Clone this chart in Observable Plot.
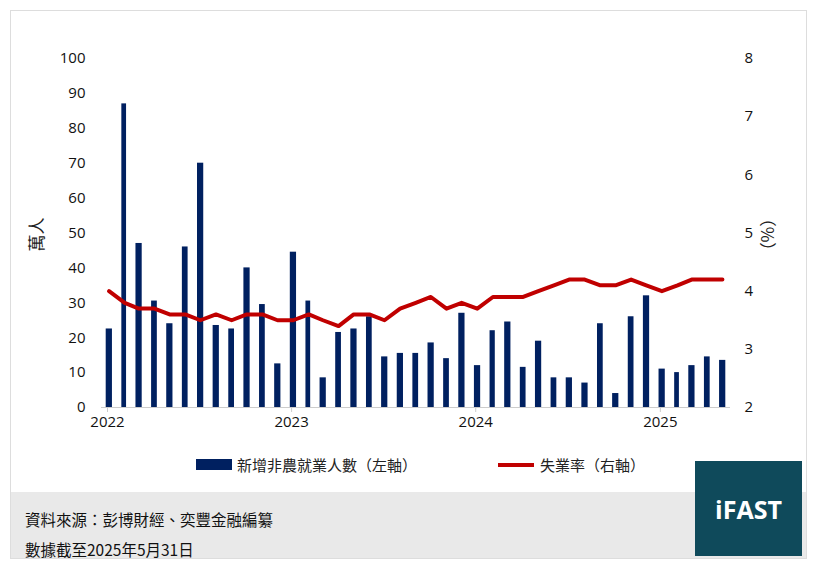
<!DOCTYPE html>
<html><head><meta charset="utf-8">
<script src="https://cdn.jsdelivr.net/npm/d3@7"></script>
<script src="https://cdn.jsdelivr.net/npm/@observablehq/plot@0.6"></script>
<style>
body{margin:0;background:#fff;font-family:"Open Sans","Noto Sans CJK TC",sans-serif;}
#wrap{position:relative;width:817px;height:571px;}
#frame{position:absolute;left:10px;top:10px;width:797px;height:549px;border:1px solid #ddd;box-sizing:border-box;}
#chart{position:absolute;left:0;top:0;}
.lbl{position:absolute;font-size:17px;color:#222;font-family:"Noto Sans CJK TC",sans-serif;white-space:nowrap;}
#legend{position:absolute;top:454px;left:0;width:817px;font-size:15px;color:#222;font-family:"Noto Sans CJK TC",sans-serif;}
#foot{position:absolute;left:11px;top:492px;width:795px;height:66px;background:#e9e9e9;}
#foot div{position:absolute;left:14px;font-size:15.5px;color:#111;font-family:"Noto Sans CJK TC",sans-serif;}
#logo{position:absolute;left:695px;top:461px;width:107px;height:95px;background:#0f4a5b;color:#fff;font:bold 25px "Open Sans",sans-serif;display:flex;align-items:center;justify-content:center;}
</style></head><body>
<div id="wrap">
<div id="frame"></div>
<div id="chart"></div>
<div class="lbl" style="left:18px;top:222px;transform:rotate(-90deg);">萬人</div>
<div class="lbl" style="left:744px;top:222px;transform:rotate(90deg);">（%）</div>
<div id="legend">
 <span style="position:absolute;left:196px;top:5px;width:36px;height:11px;background:#002060"></span>
 <span style="position:absolute;left:237px;top:0">新增非農就業人數（左軸）</span>
 <span style="position:absolute;left:498px;top:9px;width:36px;height:4px;background:#c00000"></span>
 <span style="position:absolute;left:540px;top:0">失業率（右軸）</span>
</div>
<div id="foot"><div style="top:16px">資料來源：彭博財經、奕豐金融編纂</div><div style="top:46px">數據截至2025年5月31日</div></div>
<div id="logo">iFAST</div>
</div>
<script>
const months = d3.timeMonths(new Date(2022,0,1), new Date(2025,5,1));
const payrolls = [22.5,87,47,30.5,24,46,70,23.5,22.5,40,29.5,12.5,
  44.5,30.5,8.5,21.5,22.5,26,14.5,15.5,15.5,18.5,14,27,
  12,22,24.5,11.5,19,8.5,8.5,7,24,4,26,32,
  11,10,12,14.5,13.5];
const unemployment = [4.0,3.8,3.7,3.7,3.6,3.6,3.5,3.6,3.5,3.6,3.6,3.5,
  3.5,3.6,3.5,3.4,3.6,3.6,3.5,3.7,3.8,3.9,3.7,3.8,
  3.7,3.9,3.9,3.9,4.0,4.1,4.2,4.2,4.1,4.1,4.2,4.1,
  4.0,4.1,4.2,4.2,4.2];
const yearTicks = [2022,2023,2024,2025].map(y=>new Date(y,0,1));
const rateTicks = [2,3,4,5,6,7,8];
const toLeft = u => (u-2)*100/6;

const data = months.map((d,i)=>({date:d, mid:d3.timeDay.offset(d,15), jobs:payrolls[i], rate:unemployment[i]}));

document.querySelector("#chart").append(Plot.plot({
  width:817, height:450, marginTop:58, marginBottom:43, marginLeft:101, marginRight:87,
  style:{fontSize:"15px", fontFamily:"Open Sans, sans-serif", color:"#111", background:"transparent"},
  x:{type:"utc", domain:[new Date(2022,0,1), new Date(2025,5,1)]},
  y:{domain:[0,100]},
  marks:[
    Plot.rectY(data,{x:"date", interval:"month", y:"jobs", fill:"#002060", insetLeft:4.7, insetRight:4.7}),
    Plot.ruleY([0],{stroke:"#ccc"}),
    Plot.lineY(data,{x:"mid", y:d=>toLeft(d.rate), stroke:"#c00000", strokeWidth:4}),
    Plot.axisX(yearTicks,{tickFormat:d3.timeFormat("%Y"), tickSize:5, stroke:"#ccc", fill:"#111", dx:6, label:null}),
    Plot.axisY(d3.range(0,101,10),{tickSize:0, tickPadding:16, label:null}),
    Plot.axisY(rateTicks.map(toLeft),{anchor:"right", tickSize:0, tickPadding:14, tickFormat:v=>String(Math.round(v*6/100+2)), label:null})
  ]
}));
</script>
</body></html>
